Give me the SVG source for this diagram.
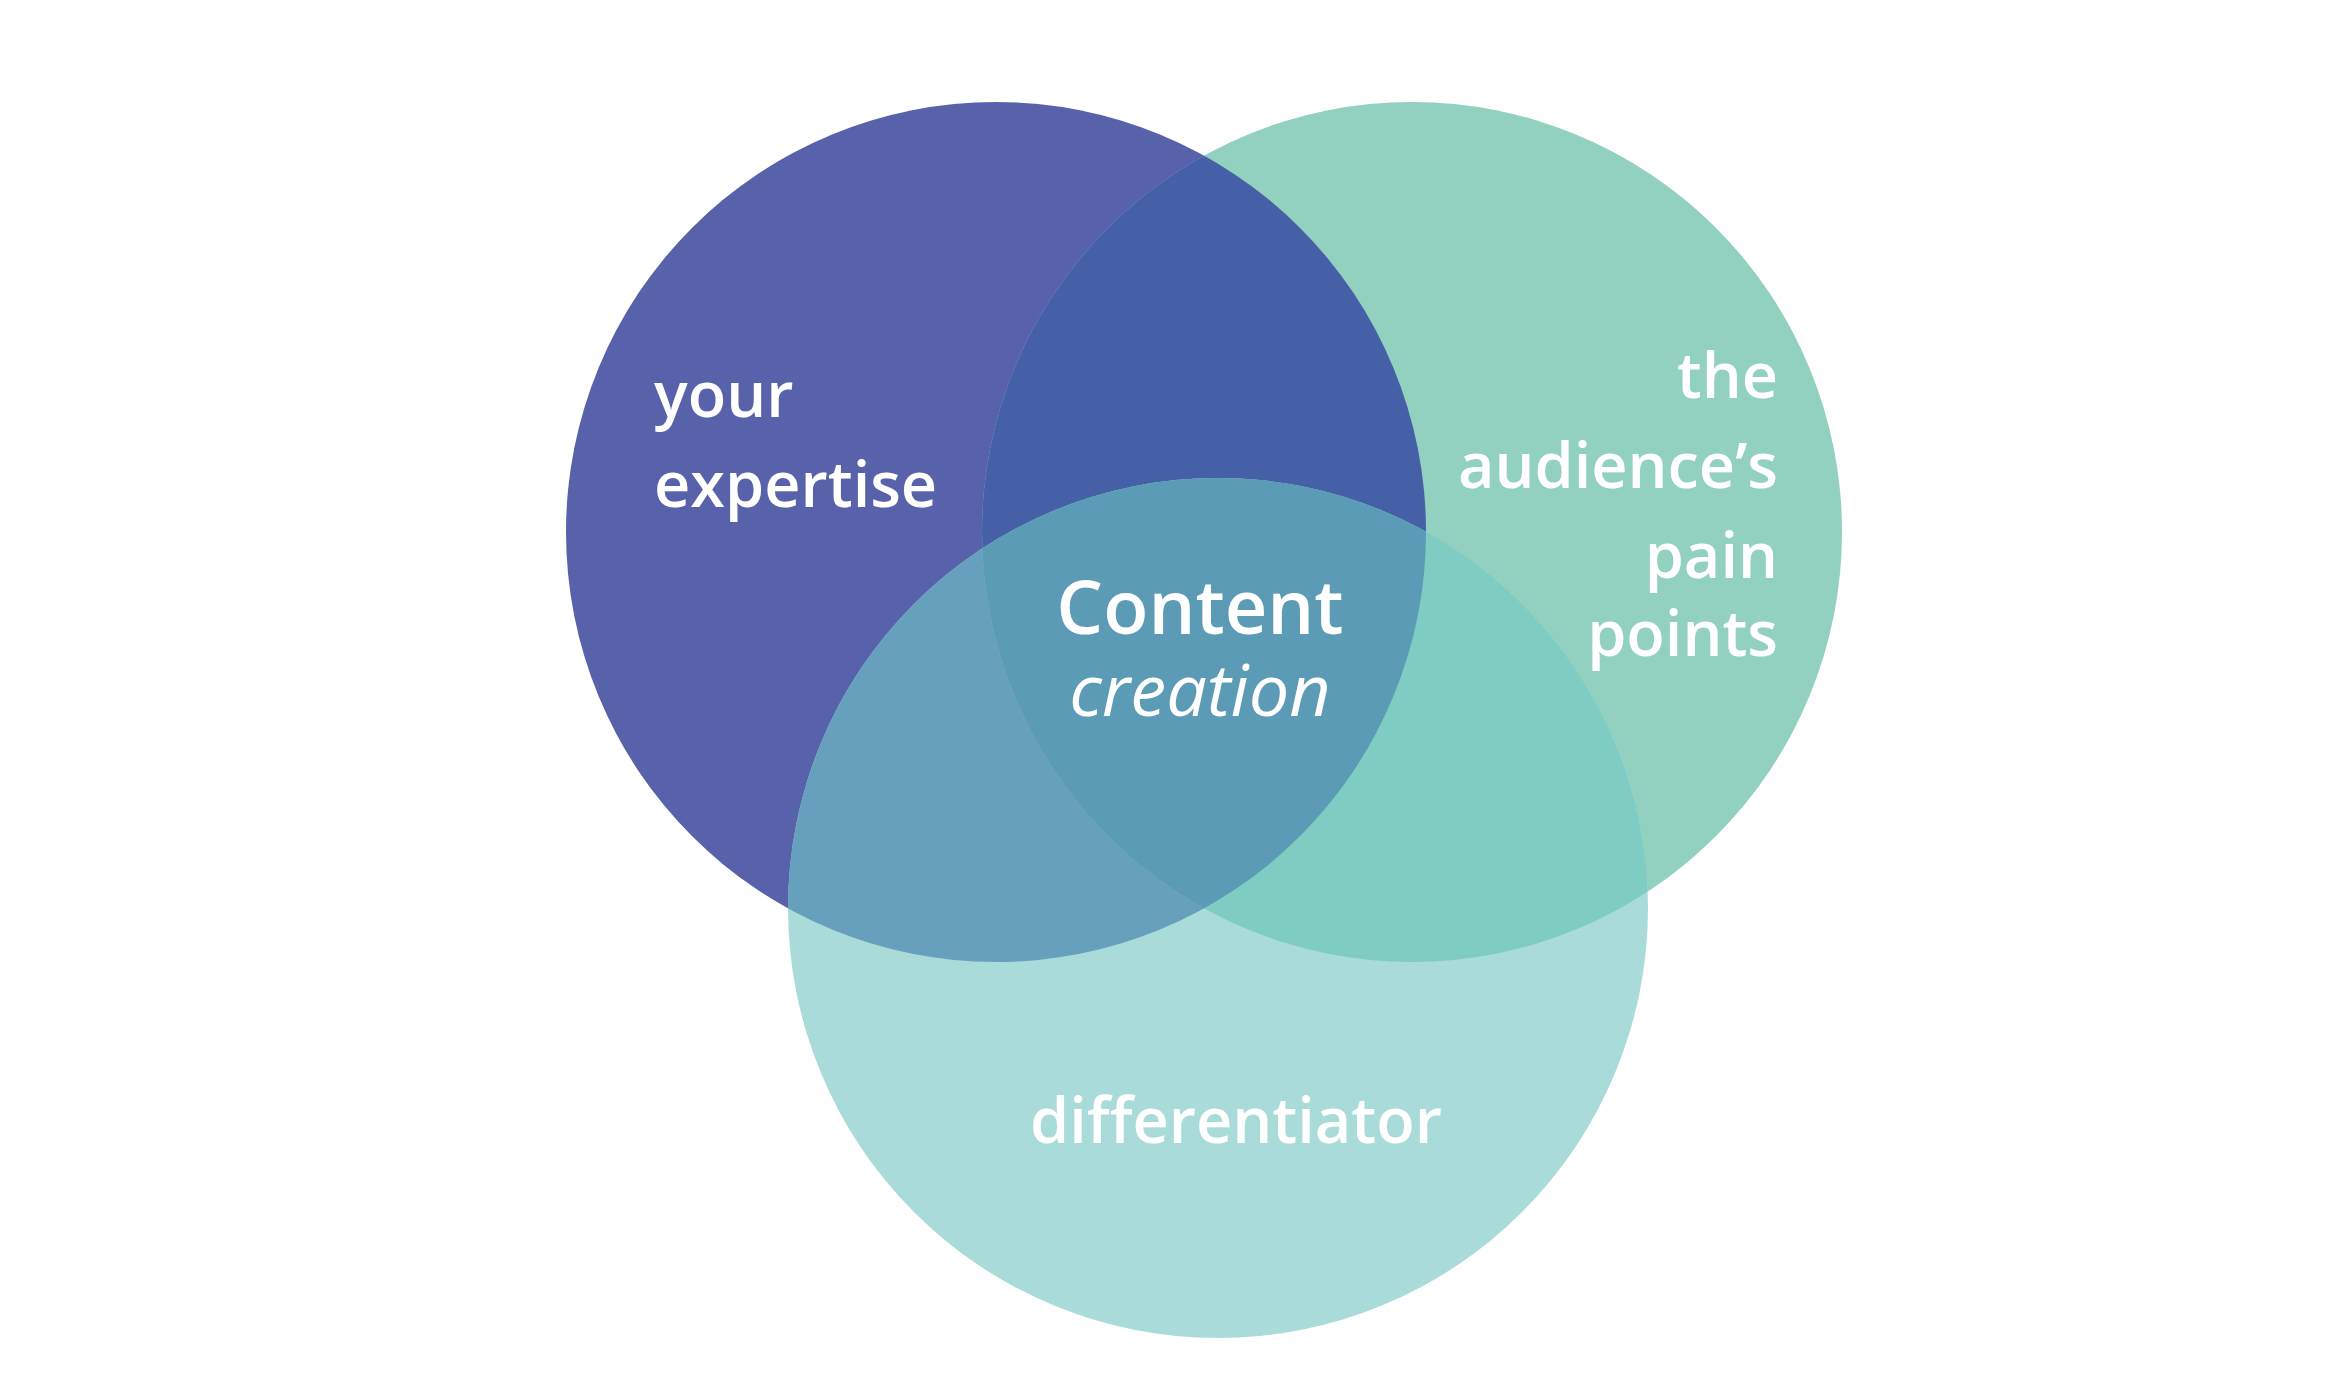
<svg xmlns="http://www.w3.org/2000/svg" width="2351" height="1381" viewBox="0 0 2351 1381">
<style>
text{font-family:"Open Sans","Liberation Sans",sans-serif;fill:#fff;font-weight:600}
.l{font-size:63px}
.it{font-style:italic;font-weight:400;font-size:72px}
</style>
<defs>
<clipPath id="cA"><circle cx="996" cy="532" r="430"/></clipPath>
<clipPath id="cB"><circle cx="1412" cy="532" r="430"/></clipPath>
</defs>
<rect width="2351" height="1381" fill="#fff"/>
<g id="expertise">
<circle cx="996" cy="532" r="430" fill="#5862AB"/>
</g>
<g id="painpoints">
<circle cx="1412" cy="532" r="430" fill="#92D1BF"/>
</g>
<g id="differentiator">
<circle cx="1218" cy="908" r="430" fill="#A9DCD9"/>
</g>
<g id="overlaps">
<circle cx="1412" cy="532" r="430" fill="#4660A8" clip-path="url(#cA)"/>
<circle cx="1218" cy="908" r="430" fill="#66A0BC" clip-path="url(#cA)"/>
<circle cx="1218" cy="908" r="430" fill="#7ECCC2" clip-path="url(#cB)"/>
<g clip-path="url(#cA)"><circle cx="1218" cy="908" r="430" fill="#5B9BB6" clip-path="url(#cB)"/></g>
</g>
<g id="labels">
<text class="l" x="654" y="417">your</text>
<text class="l" x="654" y="507">expertise</text>
<text class="l" x="1778" y="398" text-anchor="end">the</text>
<text class="l" x="1778" y="488" text-anchor="end">audience’s</text>
<text class="l" x="1778" y="578" text-anchor="end">pain</text>
<text class="l" x="1778" y="656" text-anchor="end">points</text>
<text x="1200" y="634" text-anchor="middle" font-size="74">Content</text>
<text class="it" x="1200" y="716" text-anchor="middle">creation</text>
<text class="l" x="1236" y="1143" text-anchor="middle">differentiator</text>
</g>
<g id="connectors"/>
</svg>
